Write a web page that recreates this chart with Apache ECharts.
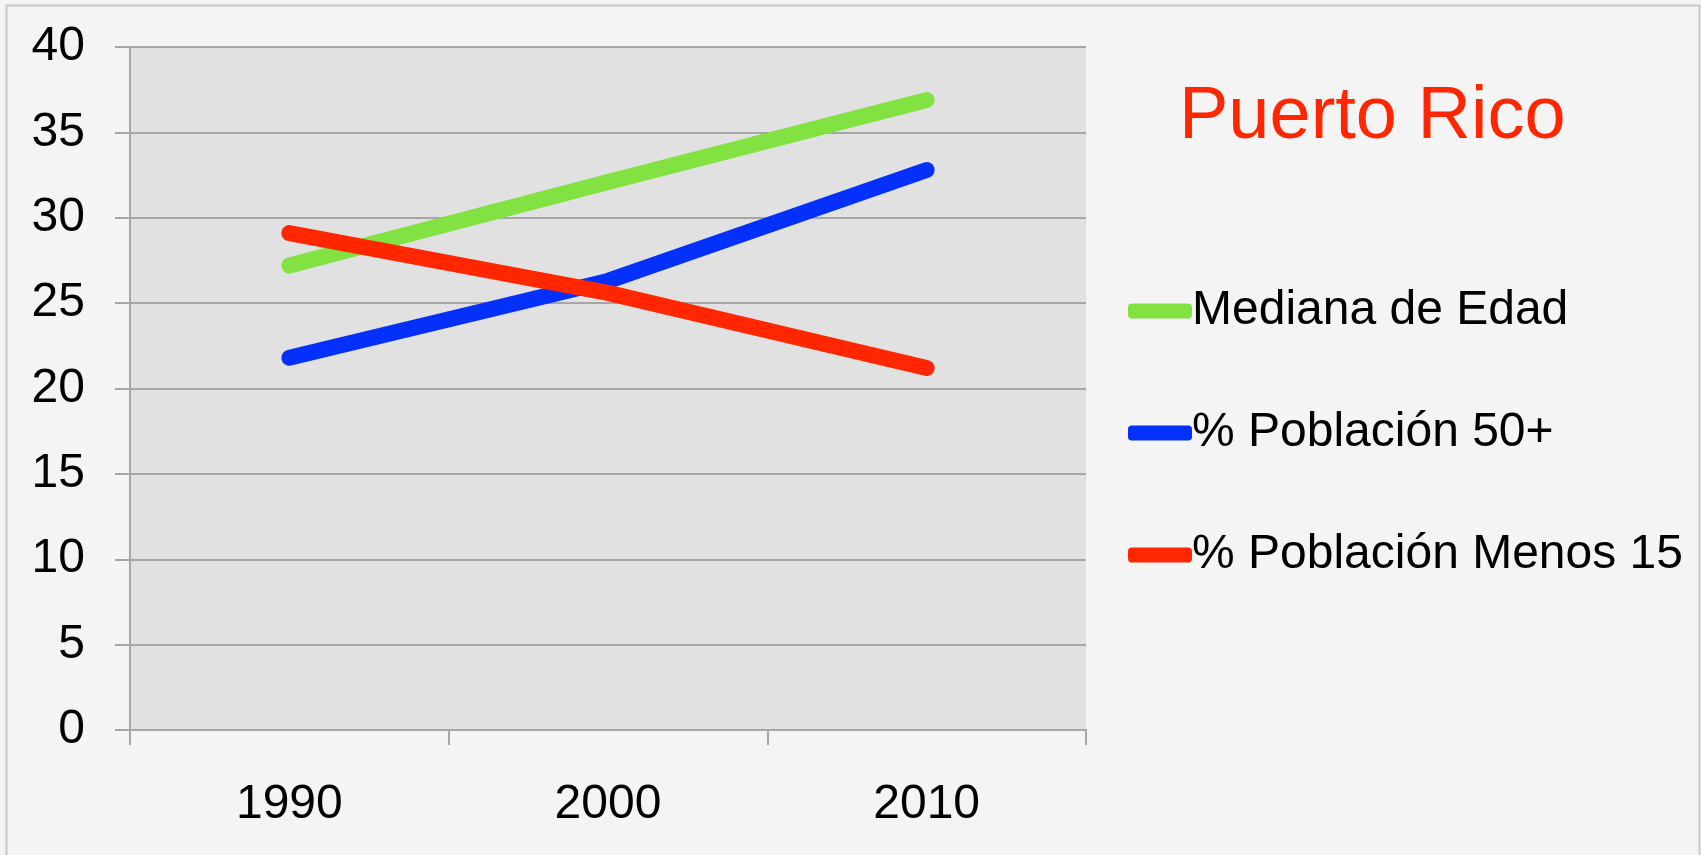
<!DOCTYPE html>
<html>
<head>
<meta charset="utf-8">
<title>Puerto Rico</title>
<script src="https://cdn.jsdelivr.net/npm/echarts@6/dist/echarts.min.js"></script>
<style>
  html, body { margin: 0; padding: 0; background: #f4f4f4; }
  #chart { width: 1701px; height: 855px; }
</style>
</head>
<body>
<div id="chart"></div>
<script>
// data
var years = ['1990', '2000', '2010']
var medianaEdad = [27.2, 32.1, 36.9]
var poblacion50 = [21.8, 26.3, 32.8]
var poblacionMenos15 = [29.1, 25.6, 21.2]

var font = 'Liberation Sans, Arial, Helvetica, sans-serif'
var gray = '#a6a6a6'

function lineSeries(name, data, color) {
  return {
    name: name,
    type: 'line',
    data: data,
    symbol: 'none',
    smooth: false,
    animation: false,
    color: color,
    lineStyle: { color: color, width: 16, cap: 'round', join: 'round' }
  }
}

var chart = echarts.init(document.getElementById('chart'))
chart.setOption({
  backgroundColor: '#f4f4f4',
  textStyle: { fontFamily: font },
  graphic: [{
    type: 'rect',
    z: -10,
    shape: { x: 6.5, y: 5.5, width: 1693, height: 900 },
    style: { fill: '#f4f4f4', stroke: '#c8c8c8', lineWidth: 2 }
  }],
  title: {
    text: 'Puerto Rico',
    left: 1174,
    top: 76,
    textStyle: { color: '#ff2600', fontSize: 74, fontWeight: 'normal', fontFamily: font }
  },
  legend: {
    orient: 'vertical',
    left: 1128,
    top: 284,
    padding: 0,
    itemWidth: 64,
    itemHeight: 15,
    itemGap: 68,
    icon: 'roundRect',
    textStyle: { fontSize: 48, color: '#000', fontFamily: font, padding: [6, 0, 0, -5], lineHeight: 48 },
    data: ['Mediana de Edad', '% Población 50+', '% Población Menos 15']
  },
  grid: { left: 130, right: 615, top: 47, bottom: 125, show: true, backgroundColor: '#e1e1e1', borderWidth: 0 },
  xAxis: {
    type: 'category',
    data: years,
    boundaryGap: true,
    axisLine: { lineStyle: { color: gray, width: 2 } },
    axisTick: { show: true, length: 15, lineStyle: { color: gray, width: 2 } },
    axisLabel: { color: '#000', fontSize: 48, margin: 51, fontFamily: font }
  },
  yAxis: {
    type: 'value',
    min: 0,
    max: 40,
    interval: 5,
    axisLine: { show: true, lineStyle: { color: gray, width: 2 } },
    axisTick: { show: true, length: 15, lineStyle: { color: gray, width: 2 } },
    axisLabel: { color: '#000', fontSize: 48, margin: 45, fontFamily: font },
    splitLine: { show: true, lineStyle: { color: gray, width: 2 } }
  },
  series: [
    lineSeries('Mediana de Edad', medianaEdad, '#82e241'),
    lineSeries('% Población 50+', poblacion50, '#0430fc'),
    lineSeries('% Población Menos 15', poblacionMenos15, '#ff2600')
  ]
})
</script>
</body>
</html>
